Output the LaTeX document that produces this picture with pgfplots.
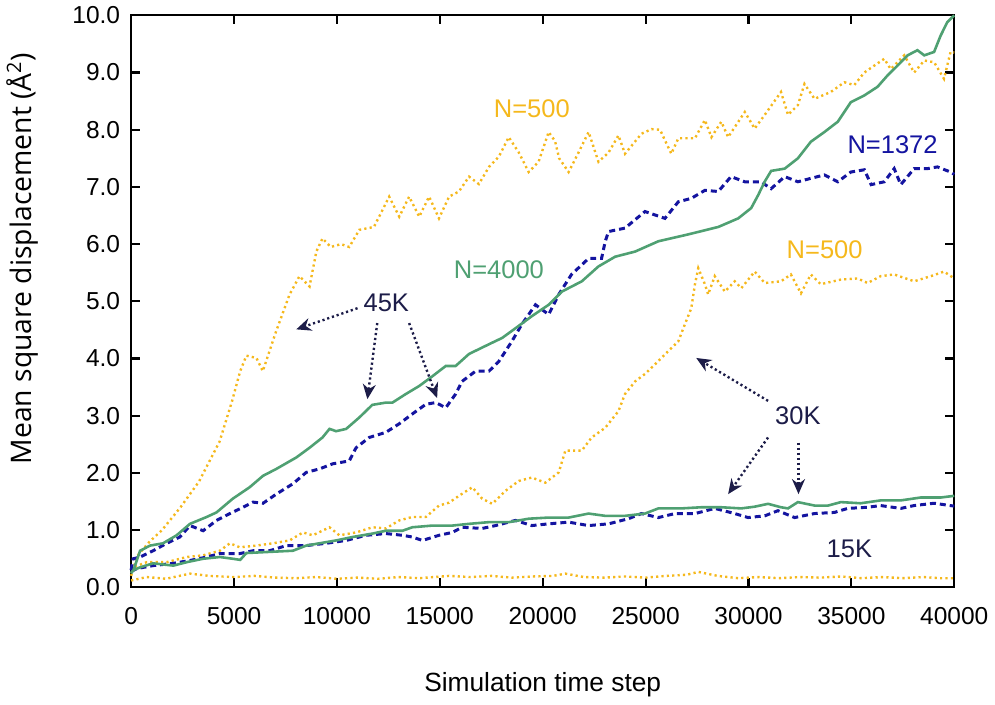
\documentclass[border=0pt]{standalone}
\usepackage{fontspec}
\setmainfont{Liberation Sans}
\newfontfamily\ylabfont{Open Sans}
\usepackage{pgfplots}
\pgfplotsset{compat=1.18}
\usetikzlibrary{arrows.meta}
\definecolor{cOr}{HTML}{F5B81C}
\definecolor{cBl}{HTML}{1414A0}
\definecolor{cGr}{HTML}{4FA072}
\definecolor{cNv}{HTML}{1C1C48}
\begin{document}
\begin{tikzpicture}
\begin{axis}[
  scale only axis, width=413pt, height=287pt,
  xmin=0, xmax=40000, ymin=0, ymax=10,
  clip=false,
  axis line style={line width=1.1pt},
  xtick={0,5000,...,40000}, ytick={0,1,...,10},
  tick align=inside, major tick length=4.5pt,
  tick style={line width=1.1pt, black},
  scaled x ticks=false,
  /pgf/number format/assume math mode=true,
  xticklabel style={/pgf/number format/1000 sep={}, font=\fontsize{12.3}{14}\selectfont, yshift=-6.5pt},
  yticklabel style={/pgf/number format/.cd, fixed, fixed zerofill, precision=1, /tikz/.cd, font=\fontsize{12.3}{14}\selectfont, xshift=-2pt},
  xlabel={Simulation time step},
  ylabel={Mean square displacement (Å\textsuperscript{2})},
  xlabel style={at={(rel axis cs:0.5,-0.171)}, anchor=center, font=\fontsize{13.2}{15}\selectfont},
  ylabel style={at={(rel axis cs:-0.132,0.575)}, anchor=center, font=\ylabfont\fontsize{14.2}{16}\selectfont},
]
\path (rel axis cs:-0.1586,-0.1934) rectangle (rel axis cs:1.046,1.0226);
% 15K N=500
\addplot[cOr, line width=1.2pt, dash pattern=on 1.1pt off 1.6pt] coordinates {
(0,0.12)(760,0.18)(1700,0.15)(2860,0.24)(3800,0.2)(5000,0.18)(6000,0.2)(7000,0.17)(8000,0.16)(9000,0.18)(10000,0.15)(11000,0.17)(12000,0.15)(13000,0.18)(14000,0.16)(15450,0.2)(16500,0.18)(17500,0.2)(18500,0.17)(19500,0.19)(20500,0.2)(21100,0.24)(22000,0.18)(23000,0.17)(24000,0.19)(25000,0.17)(26000,0.2)(27000,0.22)(27560,0.27)(28500,0.2)(29500,0.16)(30500,0.18)(31500,0.16)(32500,0.18)(33500,0.17)(34500,0.19)(35500,0.16)(36500,0.18)(37500,0.16)(38500,0.18)(39300,0.16)(40000,0.16)};
% 30K N=500
\addplot[cOr, line width=1.2pt, dash pattern=on 1.1pt off 1.6pt] coordinates {
(0,0.3)(100,0.35)(760,0.44)(1730,0.44)(2700,0.53)(3500,0.56)(4310,0.64)(4800,0.77)(5280,0.7)(6090,0.73)(6890,0.77)(7700,0.82)(8350,0.96)(8830,0.91)(9640,1.05)(10120,0.91)(10930,0.96)(11730,1.05)(12380,1.03)(13030,1.17)(13660,1.23)(14320,1.23)(14960,1.43)(15450,1.48)(15930,1.6)(16580,1.75)(17060,1.55)(17550,1.46)(18200,1.69)(18840,1.86)(19470,1.92)(20130,1.83)(20780,2.01)(21100,2.39)(21900,2.39)(22380,2.62)(23040,2.79)(23680,3.08)(24000,3.38)(24490,3.6)(24970,3.73)(25460,3.9)(26100,4.13)(26590,4.3)(26910,4.6)(27220,4.88)(27400,5.3)(27560,5.58)(27880,5.3)(28040,5.12)(28360,5.44)(28850,5.17)(29330,5.35)(29650,5.23)(30300,5.52)(30790,5.32)(31580,5.35)(32060,5.47)(32550,5.14)(33030,5.47)(33510,5.3)(34490,5.38)(35300,5.4)(35790,5.32)(36420,5.44)(37080,5.47)(38050,5.35)(38860,5.44)(39500,5.52)(40000,5.4)};
% 30K N=1372
\addplot[cBl, line width=1.5pt, dash pattern=on 3pt off 2pt] coordinates {
(0,0.28)(300,0.33)(1070,0.38)(2050,0.42)(2860,0.47)(3670,0.53)(4310,0.59)(5280,0.59)(5920,0.64)(6730,0.64)(7540,0.73)(8510,0.73)(9480,0.77)(10450,0.82)(11410,0.91)(12380,0.94)(13190,0.91)(13660,0.88)(14160,0.82)(14960,0.91)(15610,0.96)(16080,1.05)(17060,1.03)(17710,1.08)(18680,1.17)(19470,1.08)(20290,1.11)(21260,1.14)(22230,1.08)(23200,1.11)(24170,1.2)(24800,1.29)(25620,1.22)(26430,1.29)(27400,1.29)(28360,1.38)(29330,1.29)(29980,1.22)(30790,1.25)(31430,1.34)(32240,1.22)(33210,1.29)(34180,1.31)(34820,1.38)(35790,1.4)(36420,1.43)(37400,1.38)(38050,1.43)(39020,1.47)(40000,1.42)};
% 30K N=4000
\addplot[cGr, line width=1.3pt] coordinates {
(0,0.25)(100,0.3)(440,0.35)(1070,0.42)(2050,0.38)(2700,0.44)(3500,0.5)(4310,0.53)(4940,0.5)(5300,0.48)(5600,0.6)(6730,0.62)(7860,0.64)(8510,0.73)(9150,0.77)(9960,0.82)(10760,0.88)(11730,0.94)(12380,0.99)(13190,0.99)(13660,1.05)(14640,1.08)(15610,1.08)(16420,1.11)(17390,1.14)(18360,1.14)(19320,1.2)(20290,1.22)(21260,1.22)(22230,1.29)(23040,1.25)(24000,1.25)(24970,1.29)(25620,1.38)(26740,1.38)(27700,1.4)(28680,1.4)(29650,1.38)(30300,1.41)(30950,1.46)(31580,1.4)(31920,1.38)(32400,1.49)(33210,1.43)(33870,1.43)(34490,1.49)(35450,1.47)(36420,1.52)(37400,1.52)(38360,1.57)(39330,1.57)(40000,1.6)};
% 45K N=500
\addplot[cOr, line width=1.2pt, dash pattern=on 1.1pt off 1.6pt] coordinates {
(0,0.2)(300,0.55)(900,0.8)(1500,1.0)(2400,1.4)(3300,1.85)(4300,2.55)(4900,3.25)(5300,3.78)(5600,4.05)(6090,4.01)(6400,3.78)(7050,4.48)(7700,5.12)(8180,5.44)(8670,5.26)(9000,5.87)(9300,6.1)(9700,5.95)(10200,6.0)(10600,5.95)(11090,6.25)(11800,6.3)(12540,6.83)(13030,6.48)(13510,6.83)(14000,6.48)(14480,6.83)(14960,6.45)(15450,6.83)(15930,6.92)(16420,7.18)(16900,7.05)(17390,7.35)(17870,7.53)(18350,7.87)(18840,7.6)(19320,7.26)(19800,7.44)(20290,7.96)(20600,7.8)(20800,7.5)(21260,7.26)(21740,7.6)(22230,7.96)(22710,7.44)(23200,7.6)(23680,7.9)(24000,7.58)(24800,7.93)(25290,8.01)(25700,8.0)(26250,7.58)(26590,7.85)(27400,7.85)(27880,8.17)(28200,7.87)(28680,8.14)(29010,7.87)(29820,8.31)(30300,8.02)(30790,8.26)(31580,8.66)(31920,8.26)(32400,8.43)(32720,8.8)(33210,8.54)(34000,8.66)(34660,8.83)(35140,8.78)(35630,9.0)(36110,9.12)(36600,9.24)(36910,9.06)(37570,9.3)(38050,9.0)(38540,9.21)(39020,9.18)(39500,8.89)(39820,9.36)(40000,9.35)};
% 45K N=1372
\addplot[cBl, line width=1.5pt, dash pattern=on 3pt off 2pt] coordinates {
(0,0.3)(100,0.5)(436,0.53)(1070,0.64)(1730,0.77)(2370,0.88)(2860,1.08)(3500,0.99)(4150,1.17)(4800,1.29)(5440,1.40)(5920,1.49)(6410,1.47)(7055,1.63)(7860,1.81)(8510,2.01)(9150,2.07)(9800,2.16)(10600,2.21)(10930,2.44)(11570,2.62)(12380,2.71)(13030,2.86)(13660,3.03)(14320,3.2)(14800,3.23)(15290,3.14)(15770,3.38)(16080,3.6)(16740,3.78)(17390,3.78)(17870,3.95)(18500,4.3)(18990,4.6)(19650,4.94)(20290,4.77)(20780,5.12)(21400,5.47)(22230,5.75)(22860,5.75)(23040,6.05)(23200,6.22)(24000,6.28)(24970,6.57)(25940,6.45)(26590,6.74)(27220,6.8)(27880,6.94)(28530,6.92)(29150,7.18)(29820,7.09)(30600,7.09)(31100,6.97)(31760,7.18)(32400,7.09)(33030,7.15)(33690,7.21)(34340,7.09)(34970,7.26)(35630,7.3)(35960,7.04)(36600,7.09)(37080,7.32)(37400,7.04)(38050,7.32)(38700,7.32)(39180,7.35)(39820,7.26)(40000,7.22)};
% 45K N=4000
\addplot[cGr, line width=1.3pt] coordinates {
(0,0.25)(113,0.3)(436,0.64)(920,0.73)(1550,0.77)(2210,0.91)(2860,1.11)(3670,1.23)(4150,1.31)(4940,1.55)(5760,1.75)(6410,1.95)(7055,2.07)(8025,2.27)(8670,2.44)(9300,2.62)(9640,2.77)(9960,2.73)(10450,2.77)(11090,2.97)(11720,3.19)(12380,3.23)(12700,3.23)(13350,3.38)(14000,3.52)(14640,3.69)(15290,3.87)(15770,3.87)(16420,4.08)(17390,4.25)(18030,4.36)(18680,4.53)(19470,4.74)(20290,4.94)(20930,5.17)(21900,5.35)(22710,5.61)(23520,5.78)(24490,5.87)(25620,6.05)(27070,6.17)(28530,6.3)(29500,6.45)(30130,6.63)(30460,6.85)(30800,7.1)(31100,7.28)(31760,7.32)(32400,7.5)(33030,7.79)(33690,7.96)(34340,8.14)(34970,8.48)(35630,8.6)(36270,8.75)(36760,8.95)(37240,9.12)(37730,9.3)(38210,9.39)(38540,9.30)(39020,9.36)(39330,9.64)(39660,9.88)(40000,10.0)};
% labels
\node[cOr, font=\fontsize{12.8}{15}\selectfont] at (axis cs:19470,8.36) {N=500};
\node[cBl, font=\fontsize{12.8}{15}\selectfont] at (axis cs:37000,7.73) {N=1372};
\node[cGr, font=\fontsize{12.8}{15}\selectfont] at (axis cs:17870,5.56) {N=4000};
\node[cOr, font=\fontsize{12.8}{15}\selectfont] at (axis cs:33700,5.9) {N=500};
\node[cNv, font=\fontsize{12.8}{15}\selectfont] at (axis cs:12400,4.97) {45K};
\node[cNv, font=\fontsize{12.8}{15}\selectfont] at (axis cs:32400,3.0) {30K};
\node[cNv, font=\fontsize{12.8}{15}\selectfont] at (axis cs:34900,0.68) {15K};
% arrows
\begin{scope}[cNv, line width=1.2pt, dash pattern=on 1.1pt off 1.4pt, -{Stealth[length=7.5pt,width=6.5pt]}]
\draw (axis cs:11000,4.88) -- (axis cs:8025,4.51);
\draw (axis cs:11960,4.62) -- (axis cs:11480,3.29);
\draw (axis cs:13510,4.62) -- (axis cs:14870,3.31);
\draw (axis cs:30950,3.26) -- (axis cs:27460,4.01);
\draw (axis cs:30950,2.62) -- (axis cs:29010,1.63);
\draw (axis cs:32430,2.53) -- (axis cs:32430,1.63);
\end{scope}
\end{axis}
\end{tikzpicture}
\end{document}
